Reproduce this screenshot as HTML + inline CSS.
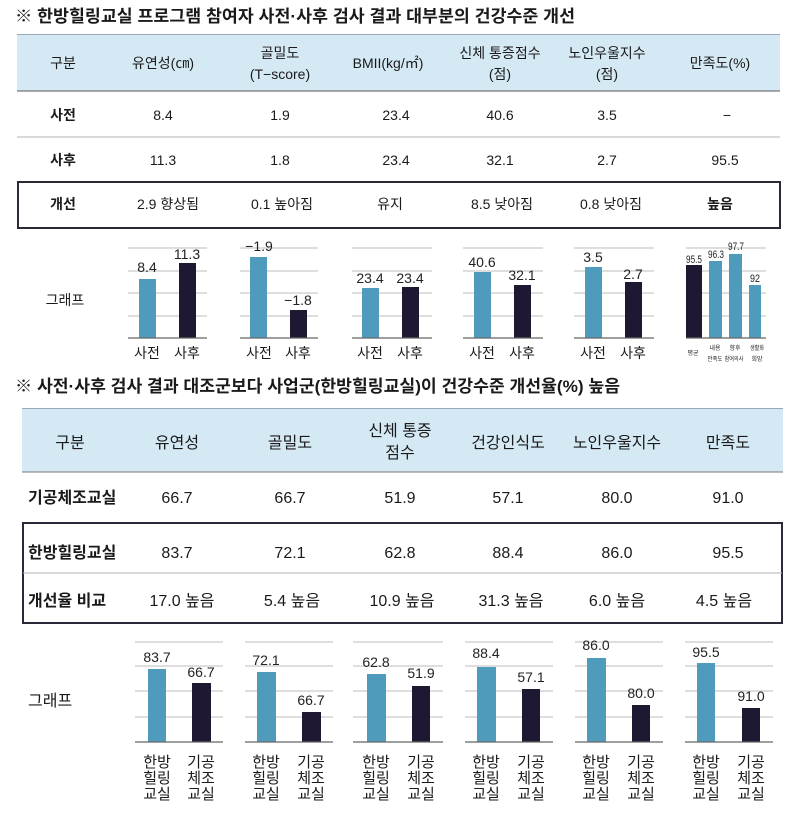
<!DOCTYPE html>
<html><head><meta charset="utf-8"><style>
html,body{margin:0;padding:0;background:#fff;}
svg{display:block;}
text{font-family:"Liberation Sans","Noto Sans CJK KR",sans-serif;fill:#1a1a1a;}
.t{font-size:14px;text-anchor:middle;}
.b{font-size:16px;text-anchor:middle;}
.n{font-size:14px;text-anchor:middle;fill:#222;}
.s{font-size:6px;text-anchor:middle;}
.x{font-size:15px;text-anchor:middle;}
</style></head><body>
<svg width="800" height="830" viewBox="0 0 800 830" xmlns="http://www.w3.org/2000/svg">
<text x="15" y="22" style="font-size:17px;font-weight:bold" textLength="560" lengthAdjust="spacingAndGlyphs">※ 한방힐링교실 프로그램 참여자 사전·사후 검사 결과 대부분의 건강수준 개선</text>
<rect x="17" y="34" width="763" height="57" fill="#d5e9f5"/>
<line x1="17" y1="34.5" x2="780" y2="34.5" stroke="#9ab" stroke-width="1"/>
<line x1="17" y1="91" x2="780" y2="91" stroke="#555" stroke-width="1"/>
<text class="t" x="63" y="68">구분</text>
<text class="t" x="163" y="68">유연성(㎝)</text>
<text class="t" x="280" y="58">골밀도</text>
<text class="t" x="280" y="79">(T−score)</text>
<text class="t" x="388" y="68">BMII(kg/㎡)</text>
<text class="t" x="500" y="58">신체 통증점수</text>
<text class="t" x="500" y="79">(점)</text>
<text class="t" x="607" y="58">노인우울지수</text>
<text class="t" x="607" y="79">(점)</text>
<text class="t" x="720" y="68">만족도(%)</text>
<line x1="17" y1="137" x2="780" y2="137" stroke="#b5b5b5" stroke-width="1"/>
<text class="t" x="63" y="120" style="font-weight:bold">사전</text>
<text class="t" x="163" y="120">8.4</text>
<text class="t" x="280" y="120">1.9</text>
<text class="t" x="396" y="120">23.4</text>
<text class="t" x="500" y="120">40.6</text>
<text class="t" x="607" y="120">3.5</text>
<text class="t" x="727" y="120">−</text>
<text class="t" x="63" y="165" style="font-weight:bold">사후</text>
<text class="t" x="163" y="165">11.3</text>
<text class="t" x="280" y="165">1.8</text>
<text class="t" x="396" y="165">23.4</text>
<text class="t" x="500" y="165">32.1</text>
<text class="t" x="607" y="165">2.7</text>
<text class="t" x="725" y="165">95.5</text>
<rect x="18" y="182" width="762" height="46" fill="none" stroke="#2b2838" stroke-width="2"/>
<text class="t" x="63" y="209" style="font-weight:bold">개선</text>
<text class="t" x="168" y="209">2.9 향상됨</text>
<text class="t" x="282" y="209">0.1 높아짐</text>
<text class="t" x="390" y="209">유지</text>
<text class="t" x="502" y="209">8.5 낮아짐</text>
<text class="t" x="611" y="209">0.8 낮아짐</text>
<text class="t" x="720" y="209" style="font-weight:bold">높음</text>

<text class="t" x="65" y="305">그래프</text>
<g stroke="#bdbdbd" stroke-width="1">
<path d="M128 248H207M128 271H207M128 293H207M128 316H207"/>
<path d="M240 248H318M240 271H318M240 293H318M240 316H318"/>
<path d="M352 248H432M352 271H432M352 293H432M352 316H432"/>
<path d="M463 248H543M463 271H543M463 293H543M463 316H543"/>
<path d="M574 248H654M574 271H654M574 293H654M574 316H654"/>
<path d="M686 248H766M686 271H766M686 293H766M686 316H766"/>
</g>
<g>
<rect x="139" y="279" width="17" height="59" fill="#4f9bbb"/>
<rect x="179" y="263" width="17" height="75" fill="#1f1833"/>
<rect x="250" y="257" width="17" height="81" fill="#4f9bbb"/>
<rect x="290" y="310" width="17" height="28" fill="#1f1833"/>
<rect x="362" y="288" width="17" height="50" fill="#4f9bbb"/>
<rect x="402" y="287" width="17" height="51" fill="#1f1833"/>
<rect x="474" y="272" width="17" height="66" fill="#4f9bbb"/>
<rect x="514" y="285" width="17" height="53" fill="#1f1833"/>
<rect x="585" y="267" width="17" height="71" fill="#4f9bbb"/>
<rect x="625" y="282" width="17" height="56" fill="#1f1833"/>
<rect x="686" y="265" width="16" height="73" fill="#1f1833"/>
<rect x="709" y="261" width="13" height="77" fill="#4f9bbb"/>
<rect x="729" y="254" width="13" height="84" fill="#4f9bbb"/>
<rect x="749" y="285" width="12" height="53" fill="#4f9bbb"/>
</g>
<g stroke="#666" stroke-width="1.3">
<path d="M128 338H207M240 338H318M352 338H432M463 338H543M574 338H654M686 338H766"/>
</g>
<text class="n" x="147" y="272">8.4</text>
<text class="n" x="187" y="259">11.3</text>
<text class="n" x="259" y="251">−1.9</text>
<text class="n" x="298" y="305">−1.8</text>
<text class="n" x="370" y="283">23.4</text>
<text class="n" x="410" y="283">23.4</text>
<text class="n" x="482" y="267">40.6</text>
<text class="n" x="522" y="280">32.1</text>
<text class="n" x="593" y="262">3.5</text>
<text class="n" x="633" y="279">2.7</text>
<text class="n" x="694" y="263" style="font-size:11px" textLength="16" lengthAdjust="spacingAndGlyphs">95.5</text>
<text class="n" x="716" y="258" style="font-size:11px" textLength="16" lengthAdjust="spacingAndGlyphs">96.3</text>
<text class="n" x="736" y="250" style="font-size:11px" textLength="16" lengthAdjust="spacingAndGlyphs">97.7</text>
<text class="n" x="755" y="282" style="font-size:11px" textLength="10" lengthAdjust="spacingAndGlyphs">92</text>
<text class="t" x="147" y="358">사전</text><text class="t" x="187" y="358">사후</text>
<text class="t" x="259" y="358">사전</text><text class="t" x="298" y="358">사후</text>
<text class="t" x="370" y="358">사전</text><text class="t" x="410" y="358">사후</text>
<text class="t" x="482" y="358">사전</text><text class="t" x="522" y="358">사후</text>
<text class="t" x="593" y="358">사전</text><text class="t" x="633" y="358">사후</text>
<text class="s" x="693" y="355">평균</text>
<text class="s" x="715" y="350">내용</text><text class="s" x="715" y="361" textLength="15" lengthAdjust="spacingAndGlyphs">만족도</text>
<text class="s" x="735" y="350">향후</text><text class="s" x="734" y="361" textLength="19" lengthAdjust="spacingAndGlyphs">참여의사</text>
<text class="s" x="757" y="350" textLength="14" lengthAdjust="spacingAndGlyphs">생활화</text><text class="s" x="757" y="361">희망</text>

<text x="15" y="392" style="font-size:17px;font-weight:bold" textLength="605" lengthAdjust="spacingAndGlyphs">※ 사전·사후 검사 결과 대조군보다 사업군(한방힐링교실)이 건강수준 개선율(%) 높음</text>
<rect x="22" y="408" width="761" height="64" fill="#d5e9f5"/>
<line x1="22" y1="408.5" x2="783" y2="408.5" stroke="#9ab" stroke-width="1"/>
<line x1="22" y1="472" x2="783" y2="472" stroke="#777" stroke-width="1"/>
<text class="b" x="70" y="448">구분</text>
<text class="b" x="177" y="448">유연성</text>
<text class="b" x="290" y="448">골밀도</text>
<text class="b" x="400" y="436">신체 통증</text>
<text class="b" x="400" y="458">점수</text>
<text class="b" x="508" y="448">건강인식도</text>
<text class="b" x="617" y="448">노인우울지수</text>
<text class="b" x="728" y="448">만족도</text>

<text x="28" y="503" style="font-size:16px;font-weight:bold">기공체조교실</text>
<text class="b" x="177" y="503">66.7</text>
<text class="b" x="290" y="503">66.7</text>
<text class="b" x="400" y="503">51.9</text>
<text class="b" x="508" y="503">57.1</text>
<text class="b" x="617" y="503">80.0</text>
<text class="b" x="728" y="503">91.0</text>

<rect x="23" y="523" width="759" height="100" fill="none" stroke="#2b2838" stroke-width="2"/>
<line x1="23" y1="573" x2="782" y2="573" stroke="#b0b0b0" stroke-width="1"/>
<text x="28" y="558" style="font-size:16px;font-weight:bold">한방힐링교실</text>
<text class="b" x="177" y="558">83.7</text>
<text class="b" x="290" y="558">72.1</text>
<text class="b" x="400" y="558">62.8</text>
<text class="b" x="508" y="558">88.4</text>
<text class="b" x="617" y="558">86.0</text>
<text class="b" x="728" y="558">95.5</text>
<text x="28" y="606" style="font-size:16px;font-weight:bold">개선율 비교</text>
<text class="b" x="182" y="606">17.0 높음</text>
<text class="b" x="292" y="606">5.4 높음</text>
<text class="b" x="402" y="606">10.9 높음</text>
<text class="b" x="511" y="606">31.3 높음</text>
<text class="b" x="617" y="606">6.0 높음</text>
<text class="b" x="724" y="606">4.5 높음</text>

<text x="28" y="706" style="font-size:16px">그래프</text>
<g stroke="#bdbdbd" stroke-width="1">
<path d="M135 642H223M135 666H223M135 691H223M135 717H223"/>
<path d="M245 642H333M245 666H333M245 691H333M245 717H333"/>
<path d="M353 642H443M353 666H443M353 691H443M353 717H443"/>
<path d="M465 642H553M465 666H553M465 691H553M465 717H553"/>
<path d="M575 642H663M575 666H663M575 691H663M575 717H663"/>
<path d="M685 642H773M685 666H773M685 691H773M685 717H773"/>
</g>
<g>
<rect x="148" y="669" width="18" height="73" fill="#4f9bbb"/>
<rect x="192" y="683" width="19" height="59" fill="#1f1833"/>
<rect x="257" y="672" width="19" height="70" fill="#4f9bbb"/>
<rect x="302" y="712" width="19" height="30" fill="#1f1833"/>
<rect x="367" y="674" width="19" height="68" fill="#4f9bbb"/>
<rect x="412" y="686" width="18" height="56" fill="#1f1833"/>
<rect x="477" y="667" width="19" height="75" fill="#4f9bbb"/>
<rect x="522" y="689" width="18" height="53" fill="#1f1833"/>
<rect x="587" y="658" width="19" height="84" fill="#4f9bbb"/>
<rect x="632" y="705" width="18" height="37" fill="#1f1833"/>
<rect x="697" y="663" width="18" height="79" fill="#4f9bbb"/>
<rect x="742" y="708" width="18" height="34" fill="#1f1833"/>
</g>
<g stroke="#666" stroke-width="1.3">
<path d="M135 742H223M245 742H333M353 742H443M465 742H553M575 742H663M685 742H773"/>
</g>
<text class="n" x="157" y="662">83.7</text>
<text class="n" x="201" y="677">66.7</text>
<text class="n" x="266" y="665">72.1</text>
<text class="n" x="311" y="705">66.7</text>
<text class="n" x="376" y="667">62.8</text>
<text class="n" x="421" y="678">51.9</text>
<text class="n" x="486" y="658">88.4</text>
<text class="n" x="531" y="682">57.1</text>
<text class="n" x="596" y="650">86.0</text>
<text class="n" x="641" y="698">80.0</text>
<text class="n" x="706" y="657">95.5</text>
<text class="n" x="751" y="701">91.0</text>

<text class="x" x="157" y="767">한방</text><text class="x" x="157" y="783">힐링</text><text class="x" x="157" y="799">교실</text>
<text class="x" x="201" y="767">기공</text><text class="x" x="201" y="783">체조</text><text class="x" x="201" y="799">교실</text>
<text class="x" x="266" y="767">한방</text><text class="x" x="266" y="783">힐링</text><text class="x" x="266" y="799">교실</text>
<text class="x" x="311" y="767">기공</text><text class="x" x="311" y="783">체조</text><text class="x" x="311" y="799">교실</text>
<text class="x" x="376" y="767">한방</text><text class="x" x="376" y="783">힐링</text><text class="x" x="376" y="799">교실</text>
<text class="x" x="421" y="767">기공</text><text class="x" x="421" y="783">체조</text><text class="x" x="421" y="799">교실</text>
<text class="x" x="486" y="767">한방</text><text class="x" x="486" y="783">힐링</text><text class="x" x="486" y="799">교실</text>
<text class="x" x="531" y="767">기공</text><text class="x" x="531" y="783">체조</text><text class="x" x="531" y="799">교실</text>
<text class="x" x="596" y="767">한방</text><text class="x" x="596" y="783">힐링</text><text class="x" x="596" y="799">교실</text>
<text class="x" x="641" y="767">기공</text><text class="x" x="641" y="783">체조</text><text class="x" x="641" y="799">교실</text>
<text class="x" x="706" y="767">한방</text><text class="x" x="706" y="783">힐링</text><text class="x" x="706" y="799">교실</text>
<text class="x" x="751" y="767">기공</text><text class="x" x="751" y="783">체조</text><text class="x" x="751" y="799">교실</text>
</svg>
</body></html>
